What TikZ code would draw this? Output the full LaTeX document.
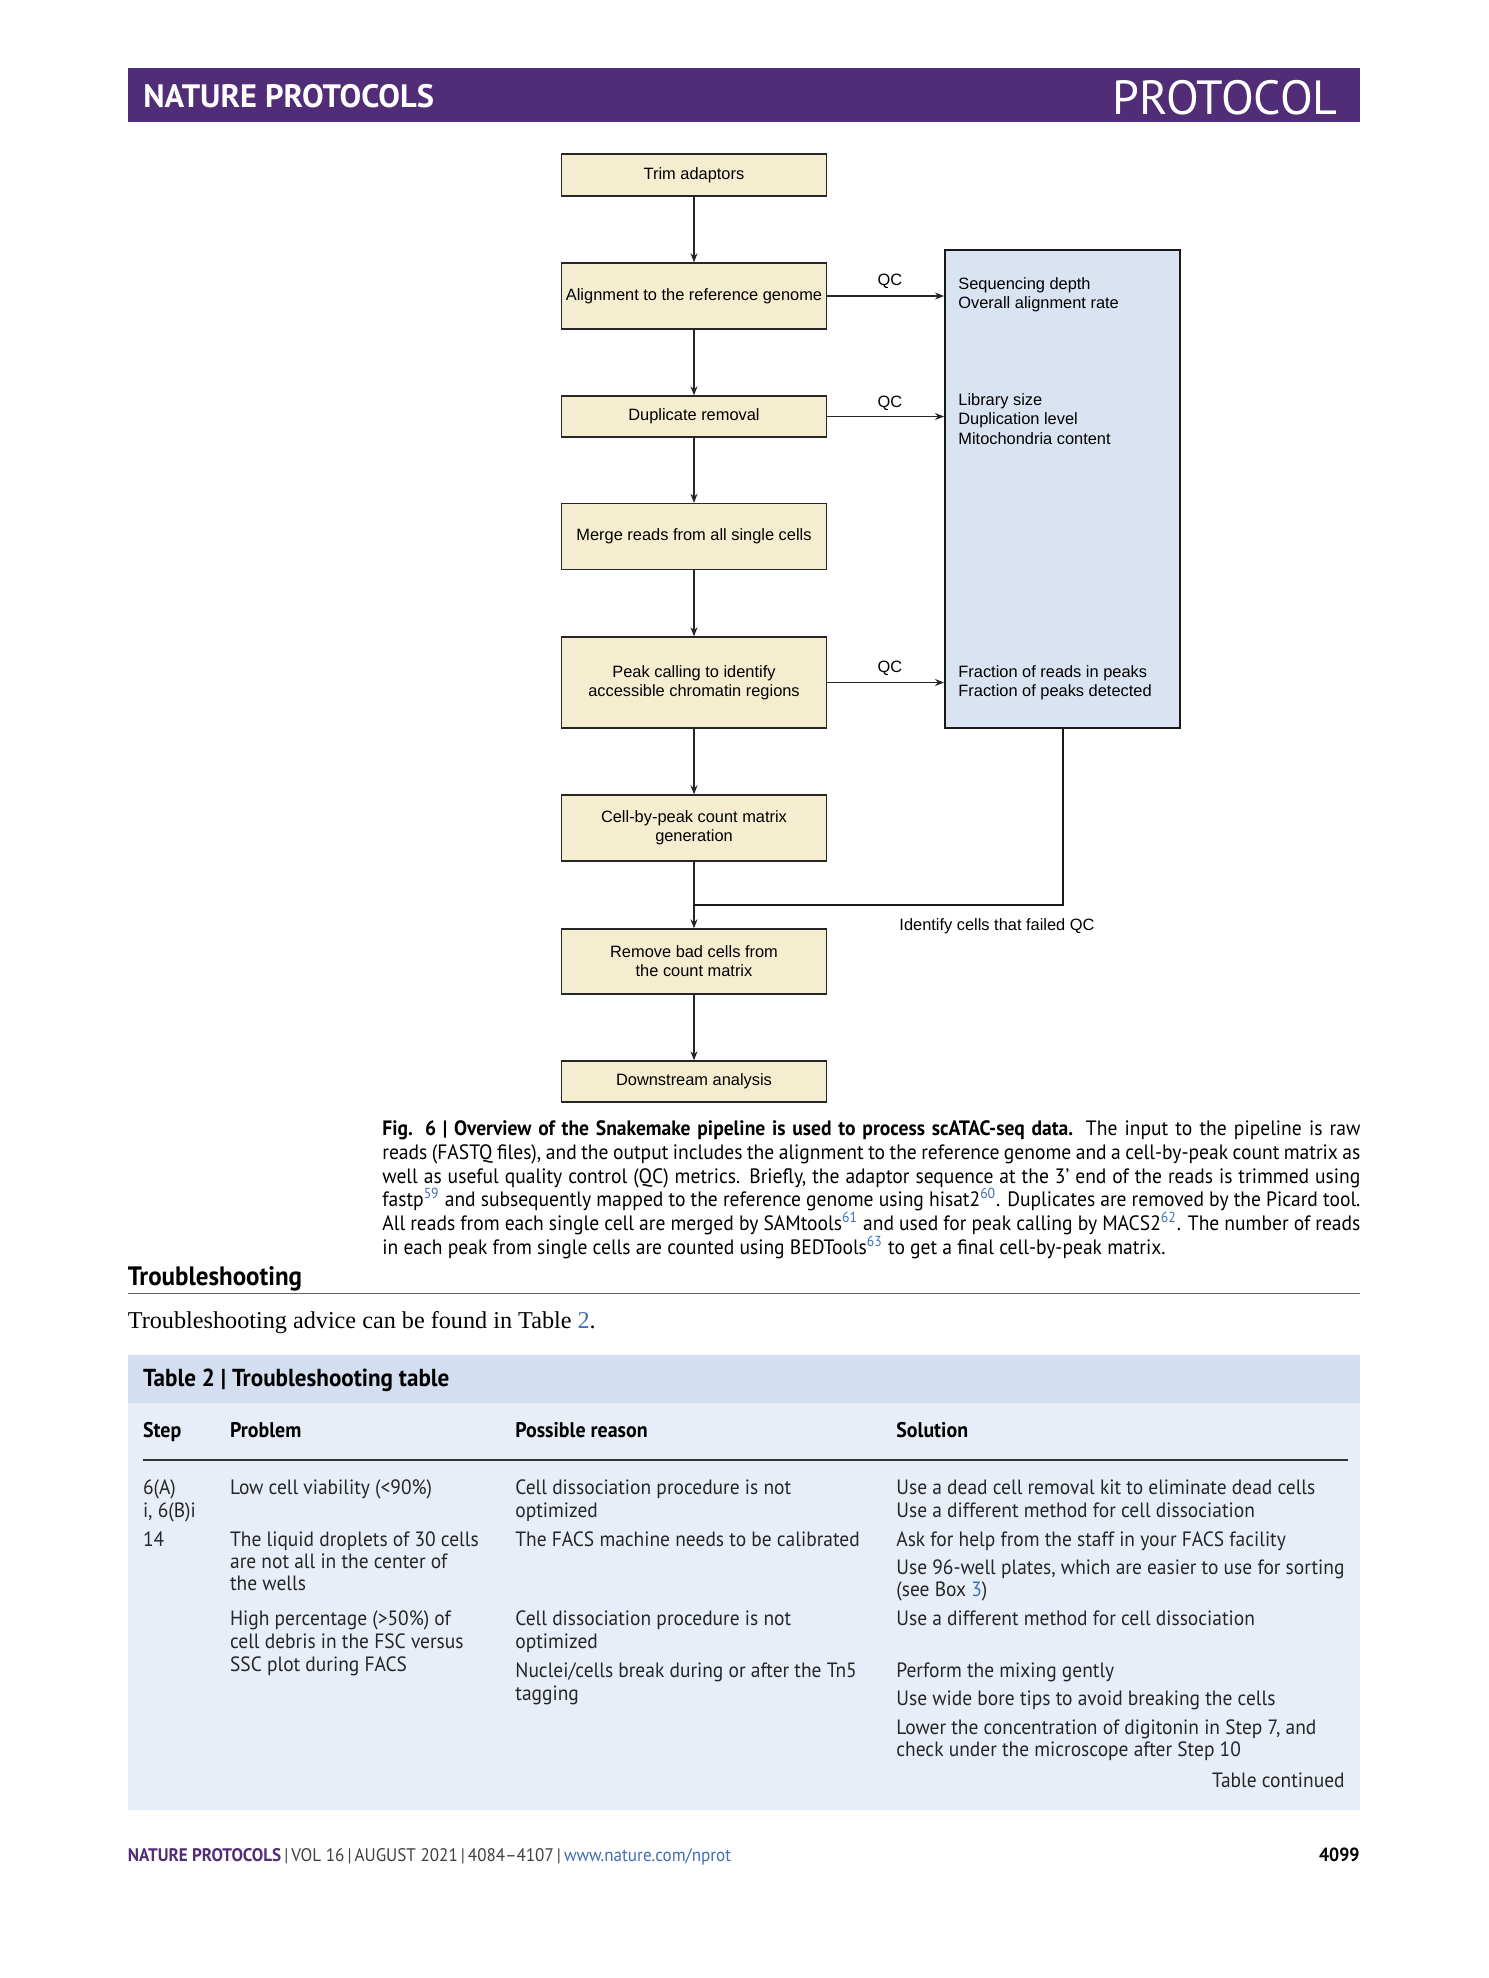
\documentclass[tikz,border=0pt]{standalone}
\usepackage{fontspec}
\setmainfont{Liberation Serif}
\newfontfamily\arialf{Liberation Sans}
\newfontfamily\natf[FakeStretch=0.94]{PT Sans}
\newfontfamily\headf{PT Sans}
\usetikzlibrary{arrows.meta}
\definecolor{natpurple}{RGB}{81,45,119}
\definecolor{beige}{RGB}{245,237,207}
\definecolor{qcblue}{RGB}{218,227,241}
\definecolor{tabhead}{RGB}{211,223,241}
\definecolor{tabbody}{RGB}{232,238,248}
\definecolor{linkblue}{RGB}{66,110,180}
\newcommand\lnk[1]{\textsuperscript{\color{linkblue}#1}}
\begin{document}
\begin{tikzpicture}[x=0.5pt,y=-0.5pt,
  flow/.style={draw=black!85, line width=0.7pt, fill=beige, minimum width=132.5pt, align=center, font=\arialf\fontsize{8.2}{9.6}\selectfont, inner sep=0pt},
  arr/.style={-{Stealth[length=4.5pt,width=3.5pt]}, line width=0.6pt, draw=black!85},
  lbl/.style={font=\arialf\fontsize{8.2}{9.6}\selectfont, inner sep=0pt, align=left},
  capline/.style={anchor=base west, inner sep=0pt, font=\natf\fontsize{10.4}{12}\selectfont},
  tab/.style={anchor=base west, inner sep=0pt, font=\natf\fontsize{10.35}{12}\selectfont, text=black!85},
  tabb/.style={tab, font=\natf\bfseries\fontsize{10.6}{12}\selectfont, text=black}]
\useasboundingbox (0,0) rectangle (1489,1978);
\fill[white] (0,0) rectangle (1489,1978);
% header
\fill[natpurple] (127.5,68) rectangle (1360,122);
\node[anchor=base west, inner sep=0pt, text=white, font=\headf\bfseries\fontsize{16.2}{19}\selectfont] (hl) at (143,107.5) {NATURE PROTOCOLS};
\node[anchor=base east, inner sep=0pt, text=white, font=\headf\fontsize{24}{28}\selectfont] (hr) at (1338,114.5) {PROTOCOL};
% flowchart
\node[flow, minimum height=21pt] (trim) at (694,175) {Trim adaptors};
\node[flow, minimum height=33pt] (align) at (694,296) {Alignment to the reference genome};
\node[flow, minimum height=20.5pt] (dup) at (694,416.5) {Duplicate removal};
\node[flow, minimum height=33pt] (merge) at (694,536.5) {Merge reads from all single cells};
\node[flow, minimum height=45.5pt] (peak) at (694,682.5) {Peak calling to identify\\accessible chromatin regions};
\node[flow, minimum height=33pt] (cell) at (694,828) {Cell-by-peak count matrix\\generation};
\node[flow, minimum height=32.5pt] (remove) at (694,961.5) {Remove bad cells from\\the count matrix};
\node[flow, minimum height=20.5pt] (down) at (694,1081.5) {Downstream analysis};
\node[draw=black!90, line width=1pt, fill=qcblue, minimum width=117.5pt, minimum height=239pt, inner sep=0pt] (qc) at (1062.5,489) {};
\node[lbl, anchor=west] (t1) at (958,295) {Sequencing depth\\Overall alignment rate};
\node[lbl, anchor=west] (t2) at (958,419) {Library size\\Duplication level\\Mitochondria content};
\node[lbl, anchor=west] (t3) at (958,682.5) {Fraction of reads in peaks\\Fraction of peaks detected};
\draw[arr] (trim) -- (align);
\draw[arr] (align) -- (dup);
\draw[arr] (dup) -- (merge);
\draw[arr] (merge) -- (peak);
\draw[arr] (peak) -- (cell);
\draw[arr] (cell) -- (remove);
\draw[arr] (remove) -- (down);
\draw[arr] (align.east) -- (align.east -| qc.west);
\draw[arr] (dup.east) -- (dup.east -| qc.west);
\draw[arr] (peak.east) -- (peak.east -| qc.west);
\node[lbl] (q1) at (890,281.5) {QC};
\node[lbl] (q2) at (890,403.5) {QC};
\node[lbl] (q3) at (890,668.5) {QC};
\coordinate (j) at (694,905);
\draw[line width=1pt, draw=black!90] (qc.south) |- (j);
\node[lbl] (fail) at (997,926.5) {Identify cells that failed QC};
% caption
\node[capline] (c1) at (382,1135) {\makebox[489pt][s]{\textbf{Fig. 6 | Overview of the Snakemake pipeline is used to process scATAC-seq data.} The input to the pipeline is raw}};
\node[capline] (c2) at (382,1159) {\makebox[489pt][s]{reads (FASTQ files), and the output includes the alignment to the reference genome and a cell-by-peak count matrix as}};
\node[capline] (c3) at (382,1183) {\makebox[489pt][s]{well as useful quality control (QC) metrics. Briefly, the adaptor sequence at the 3’ end of the reads is trimmed using}};
\node[capline] (c4) at (382,1206) {\makebox[489pt][s]{fastp\lnk{59} and subsequently mapped to the reference genome using hisat2\lnk{60}. Duplicates are removed by the Picard tool.}};
\node[capline] (c5) at (382,1230) {\makebox[489pt][s]{All reads from each single cell are merged by SAMtools\lnk{61} and used for peak calling by MACS2\lnk{62}. The number of reads}};
\node[capline] (c6) at (382,1254) {in each peak from single cells are counted using BEDTools\lnk{63} to get a final cell-by-peak matrix.};
% troubleshooting
\node[anchor=base west, inner sep=0pt, font=\natf\bfseries\fontsize{13.3}{16}\selectfont] (ts) at (127.5,1285) {Troubleshooting};
\draw[black!60, line width=0.5pt] (127.5,1293.5) -- (1360,1293.5);
\node[anchor=base west, inner sep=0pt, font=\fontsize{12.1}{14}\selectfont] (adv) at (127.5,1328) {Troubleshooting advice can be found in Table {\color{linkblue}2}.};
% table
\fill[tabhead] (127.5,1355) rectangle (1360,1403);
\fill[tabbody] (127.5,1403) rectangle (1360,1810);
\node[anchor=base west, inner sep=0pt, font=\natf\bfseries\fontsize{12.3}{14}\selectfont] (tt) at (142.6,1386.5) {Table 2 | Troubleshooting table};
\node[tabb] (h1) at (142.6,1437) {Step};
\node[tabb] (h2) at (229.7,1437) {Problem};
\node[tabb] (h3) at (515,1437) {Possible reason};
\node[tabb] (h4) at (896,1437) {Solution};
\draw[black!80, line width=0.6pt] (142.6,1460) -- (1348,1460);
\node[tab] (r1a) at (142.6,1494) {6(A)};
\node[tab] (r1b) at (142.6,1517) {i, 6(B)i};
\node[tab] (r1c) at (229.7,1494) {Low cell viability (<90\%)};
\node[tab] (r1d) at (515,1494) {Cell dissociation procedure is not};
\node[tab] (r1e) at (515,1517) {optimized};
\node[tab] (r1f) at (896,1494) {Use a dead cell removal kit to eliminate dead cells};
\node[tab] (r1g) at (896,1517) {Use a different method for cell dissociation};
\node[tab] (r2a) at (142.6,1546) {14};
\node[tab] (r2b) at (229.7,1546) {The liquid droplets of 30 cells};
\node[tab] (r2c) at (229.7,1568) {are not all in the center of};
\node[tab] (r2d) at (229.7,1590) {the wells};
\node[tab] (r2e) at (515,1546) {The FACS machine needs to be calibrated};
\node[tab] (r2f) at (896,1546) {Ask for help from the staff in your FACS facility};
\node[tab] (r2g) at (896,1574) {Use 96-well plates, which are easier to use for sorting};
\node[tab] (r2h) at (896,1596) {(see Box {\color{linkblue}3})};
\node[tab] (r3a) at (229.7,1625) {High percentage (>50\%) of};
\node[tab] (r3b) at (229.7,1648) {cell debris in the FSC versus};
\node[tab] (r3c) at (229.7,1671) {SSC plot during FACS};
\node[tab] (r3d) at (515,1625) {Cell dissociation procedure is not};
\node[tab] (r3e) at (515,1648) {optimized};
\node[tab] (r3f) at (896,1625) {Use a different method for cell dissociation};
\node[tab] (r4a) at (515,1677) {Nuclei/cells break during or after the Tn5};
\node[tab] (r4b) at (515,1700) {tagging};
\node[tab] (r4c) at (896,1677) {Perform the mixing gently};
\node[tab] (r4d) at (896,1705) {Use wide bore tips to avoid breaking the cells};
\node[tab] (r4e) at (896,1734) {Lower the concentration of digitonin in Step 7, and};
\node[tab] (r4f) at (896,1756.5) {check under the microscope after Step 10};
\node[tab, anchor=base east] (cont) at (1345,1787) {Table continued};
% footer
\node[anchor=base west, inner sep=0pt, font=\natf\fontsize{9.1}{11}\selectfont, text=black!75] (foot) at (127.5,1861) {\textbf{\color{natpurple}NATURE PROTOCOLS}\,|\,VOL 16\,|\,AUGUST 2021\,|\,4084–4107\,|\,{\color{linkblue}www.nature.com/nprot}};
\node[anchor=base east, inner sep=0pt, font=\natf\bfseries\fontsize{9.5}{11}\selectfont] (pg) at (1360,1861) {4099};
\end{tikzpicture}
\end{document}
